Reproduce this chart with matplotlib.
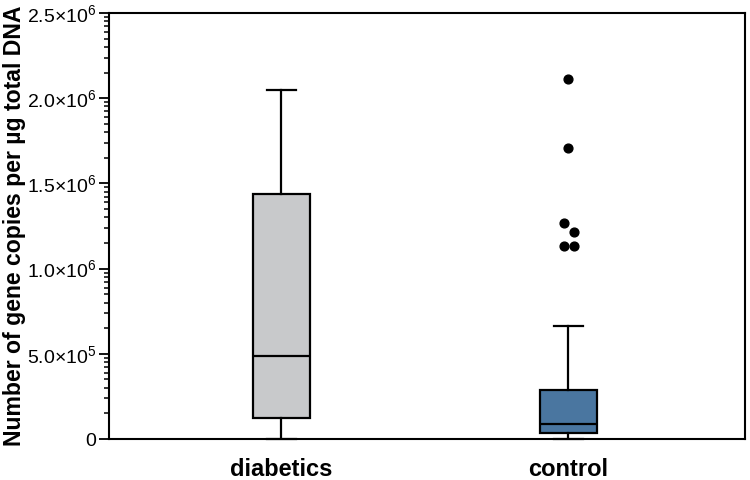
import numpy as np
import matplotlib
matplotlib.use("Agg")
import matplotlib.pyplot as plt
from matplotlib.ticker import FixedLocator

plt.rcParams['font.family'] = ['Liberation Sans', 'DejaVu Sans']
plt.rcParams['mathtext.fontset'] = 'custom'
plt.rcParams['mathtext.rm'] = 'Liberation Sans'

categories = ["diabetics", "control"]
whislo = [0.0, 0.0]
q1 = [1.25e5, 3.3e4]
med = [4.9e5, 9.0e4]
q3 = [1.435e6, 2.9e5]
whishi = [2.05e6, 6.65e5]
control_outliers = [2.115e6, 1.705e6, 1.265e6, 1.215e6, 1.135e6, 1.135e6]
outlier_offsets = [0.0, 0.0, -0.017, 0.021, -0.017, 0.021]
colors = ["#c8c9cb", "#4a76a0"]
ytick_vals = [0, 5e5, 1e6, 1.5e6, 2e6, 2.5e6]
ytick_labels = ["0", r"$\mathregular{5.0{\times}10^{5}}$", r"$\mathregular{1.0{\times}10^{6}}$",
                r"$\mathregular{1.5{\times}10^{6}}$", r"$\mathregular{2.0{\times}10^{6}}$",
                r"$\mathregular{2.5{\times}10^{6}}$"]

fig = plt.figure(figsize=(7.5, 4.8), dpi=100)
ax = fig.add_axes([0.1453, 0.0854, 0.848, 0.8875])

stats = []
for i, c in enumerate(categories):
    stats.append(dict(label=c, whislo=whislo[i], q1=q1[i], med=med[i], q3=q3[i],
                      whishi=whishi[i], fliers=[]))
bp = ax.bxp(stats, positions=[1, 2], widths=0.2, patch_artist=True, showfliers=False,
            boxprops=dict(linewidth=1.6, edgecolor='black'),
            medianprops=dict(color='black', linewidth=1.6),
            whiskerprops=dict(color='black', linewidth=1.6),
            capprops=dict(color='black', linewidth=1.6), capwidths=0.1)
for patch, col in zip(bp['boxes'], colors):
    patch.set_facecolor(col)
for cap in bp['caps']:
    cap.set_clip_on(False)

ax.scatter(2 + np.array(outlier_offsets), control_outliers, s=40, color='black', zorder=5)

ax.set_xlim(0.4, 2.615)
ax.set_ylim(0, 2.5e6)
ax.set_xticks([1, 2])
ax.set_xticklabels(categories, fontsize=17, fontweight='bold')
ax.tick_params(axis='x', length=0, pad=14)
ax.set_yticks(ytick_vals)
ax.set_yticklabels(ytick_labels, fontsize=14)
minor = []
for k in range(5):
    for j in range(2, 10):
        minor.append(k * 5e5 + 5e5 * np.log10(j))
ax.yaxis.set_minor_locator(FixedLocator(minor))
ax.tick_params(axis='y', which='major', length=7, width=1.3, pad=2)
ax.tick_params(axis='y', which='minor', length=3.5, width=1.1)
for s in ax.spines.values():
    s.set_linewidth(1.5)
ax.set_ylabel("Number of gene copies per µg total DNA", fontsize=16.6, fontweight='bold', labelpad=1)

fig.savefig("out.png", dpi=100)
